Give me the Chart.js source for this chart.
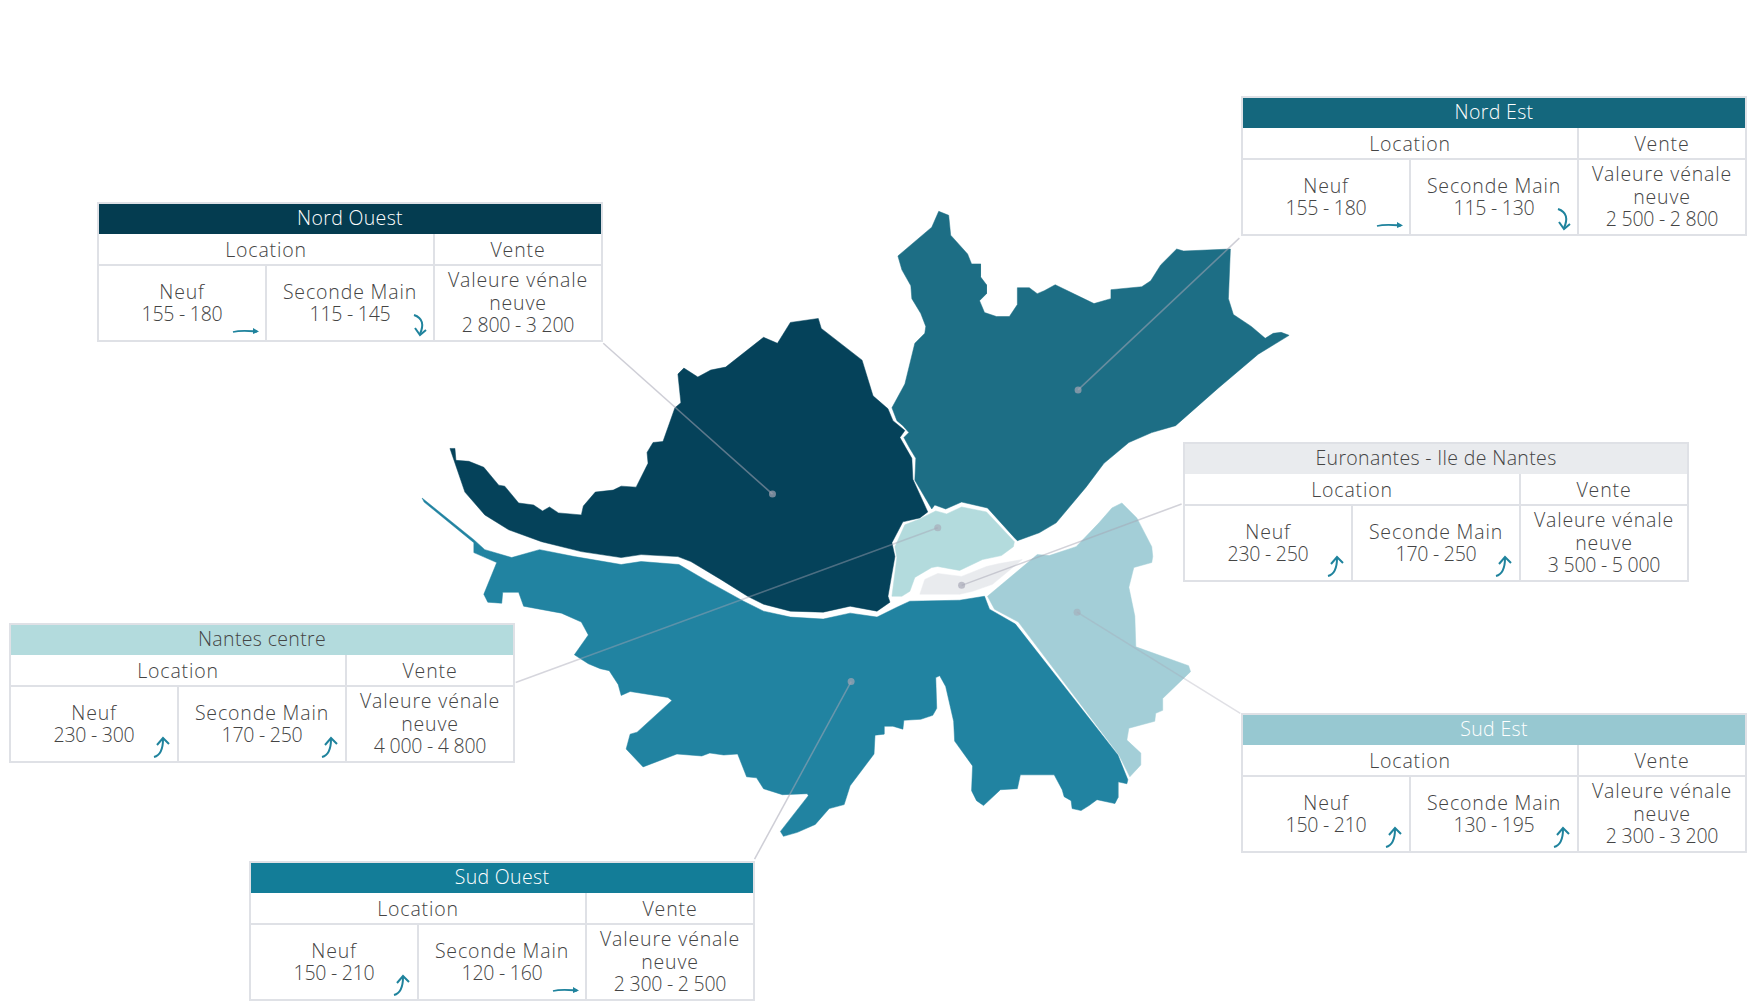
<!DOCTYPE html>
<html lang="fr">
<head>
<meta charset="utf-8">
<title>Nantes - prix par secteur</title>
<script src="https://cdn.jsdelivr.net/npm/chart.js@4/dist/chart.umd.min.js"></script>
<style>
  html, body { margin: 0; padding: 0; background: #fff; }
  #stage { position: relative; width: 1756px; height: 1008px; overflow: hidden; }
  #map { position: absolute; left: 0; top: 0; }
  .box {
    position: absolute; width: 506px; height: 140px; box-sizing: border-box;
    display: grid; grid-template-columns: 168px 168px 1fr; grid-template-rows: 30px 32px 1fr;
    border: 2px solid #dfe1e6; background: #fff;
    font-family: "Open Sans", sans-serif; font-weight: 300; font-size: 19.5px; line-height: 22.5px;
    letter-spacing: 0.85px; color: #444; text-align: center;
  }
  .box > div { position: relative; display: flex; align-items: center; justify-content: center; border-right: 2px solid #dfe1e6; border-bottom: 2px solid #dfe1e6; }
  .box > div.last { border-right: 0; }
  .box > div.bottom { border-bottom: 0; }
  .box .head { grid-column: 1 / 4; border-right: 0; border-bottom: 0; letter-spacing: 0.35px; padding-bottom: 1px; box-sizing: border-box; }
  .box .loc { grid-column: 1 / 3; }
  .box .sub { padding-top: 2px; box-sizing: border-box; }
  .box .num { letter-spacing: -0.25px; }
  .box svg { position: absolute; right: 5px; bottom: 3px; }
</style>
</head>
<body>
<div id="stage">
  <canvas id="map" width="1756" height="1008"></canvas>
</div>
<script>
// map outlines, in reference map units
const nordOuest = [[448,448],[453,448],[454,460],[467,461],[482,467],[497,485],[503,486],[517,503],[532,505],[541,511],[548,507],[557,513],[580,515],[582,506],[594,492],[612,490],[620,486],[635,487],[647,463],[646,452],[652,442],[662,441],[674,407],[680,402],[677,373],[683,367],[697,376],[710,369],[725,366],[763,336],[777,342],[790,321],[818,317],[821,327],[862,359],[873,395],[888,408],[893,420],[905,430],[900,437],[912,458],[913,479],[928,512],[920,518],[903,522],[892,543],[895,557],[888,597],[890,603],[877,612],[850,607],[823,613],[790,612],[763,605],[747,597],[720,580],[690,562],[677,557],[640,555],[620,558],[580,552],[540,542],[507,530],[483,515],[463,492]];
const nordEst = [[939,209],[949,213],[951,233],[968,252],[972,262],[981,262],[981,275],[987,283],[987,292],[980,299],[985,311],[997,315],[1010,315],[1018,303],[1018,286],[1030,286],[1038,292],[1045,289],[1056,283],[1095,302],[1112,297],[1112,288],[1143,285],[1152,279],[1162,263],[1178,247],[1185,249],[1232,247],[1230,297],[1235,313],[1253,325],[1267,337],[1275,332],[1283,331],[1291,334],[1260,353],[1220,387],[1177,425],[1153,432],[1130,442],[1105,463],[1087,487],[1057,523],[1040,533],[1018,541],[1015,538],[988,508],[962,502],[946,509],[935,505],[932,509],[915,480],[916,458],[910,448],[904,437],[909,432],[903,425],[897,420],[892,407],[905,383],[915,342],[925,332],[926,325],[921,312],[912,297],[911,284],[902,268],[898,254],[932,225]];
const nantesCentre = [[892,597],[902,597],[910,592],[915,578],[932,568],[938,567],[960,571],[983,560],[1002,556],[1014,547],[1015,542],[987,512],[962,507],[947,514],[936,511],[920,519],[905,525],[895,547],[897,558]];
const euronantes = [[920,595],[925,580],[938,574],[962,577],[987,567],[1000,564],[1023,560],[993,585],[973,592],[960,595]];
const sudOuest = [[420,498],[472,540],[483,550],[510,558],[538,550],[573,557],[620,565],[640,562],[678,565],[707,582],[743,602],[763,612],[790,618],[823,620],[850,614],[877,618],[897,608],[910,602],[960,601],[985,597],[990,610],[1016,625],[1119,757],[1129,782],[1128,786],[1119,784],[1119,800],[1116,806],[1098,802],[1090,808],[1082,813],[1073,811],[1072,803],[1065,799],[1063,792],[1055,777],[1021,777],[1018,791],[1001,792],[984,808],[977,803],[972,793],[973,768],[955,743],[954,723],[946,688],[940,677],[936,679],[937,710],[933,717],[921,721],[904,722],[903,731],[893,728],[884,728],[884,736],[875,737],[874,756],[850,788],[844,807],[829,811],[815,827],[797,835],[783,839],[780,834],[808,798],[807,796],[782,797],[763,791],[756,780],[746,779],[737,756],[723,757],[709,755],[701,758],[676,756],[642,769],[625,751],[629,736],[636,734],[671,702],[667,699],[629,693],[620,697],[617,686],[608,672],[599,670],[587,665],[573,656],[587,636],[580,623],[560,614],[522,607],[517,593],[501,593],[500,604],[486,603],[482,595],[495,563],[472,553],[472,543],[422,502]];
const sudEst = [[988,597],[995,610],[1019,623],[1120,757],[1131,779],[1142,767],[1142,755],[1128,742],[1130,730],[1156,723],[1157,715],[1164,712],[1164,700],[1192,673],[1190,667],[1137,648],[1136,617],[1130,588],[1135,568],[1153,563],[1154,557],[1153,547],[1138,518],[1123,503],[1113,508],[1100,523],[1077,547],[1050,556],[1038,555]];

// leader lines: table corner, then the dot inside the sector
const leaderNordOuest = [[602,342],[772,494]];
const leaderNordEst = [[1241,236],[1079,389]];
const leaderEuronantes = [[1183,504],[962,586]];
const leaderCentre = [[514,684],[938,528]];
const leaderSudEst = [[1242,715],[1078,613]];
const leaderSudOuest = [[754,862],[851,683]];

// table contents
const sectors = ["Nord Ouest", "Nord Est", "Euronantes - Ile de Nantes", "Nantes centre", "Sud Est", "Sud Ouest"];
const neuf = ["155 - 180", "155 - 180", "230 - 250", "230 - 300", "150 - 210", "150 - 210"];
const secondeMain = ["115 - 145", "115 - 130", "170 - 250", "170 - 250", "130 - 195", "120 - 160"];
const valeurVenale = ["2 800 - 3 200", "2 500 - 2 800", "3 500 - 5 000", "4 000 - 4 800", "2 300 - 3 200", "2 300 - 2 500"];
const trendNeuf = ["flat", "flat", "up", "up", "up", "up"];
const trendSeconde = ["down", "down", "up", "up", "up", "flat"];

const headColors = ["#043c50", "#14677d", "#e9ebee", "#b3dbdd", "#97c8d1", "#137d98"];
const headText = ["#fff", "#fff", "#444", "#444", "#fff", "#fff"];
const boxLeft = [97, 1241, 1183, 9, 1241, 249];
const boxTop = [202, 96, 442, 623, 713, 861];

const arrows = {
  flat: '<svg width="28" height="12" viewBox="0 0 28 12"><path d="M1 7 C9 5 17 6 25 6.5" fill="none" stroke="#1f839d" stroke-width="1.8"/><path d="M21 3 L27 6.5 L21 9 Z" fill="#1f839d"/></svg>',
  down: '<svg width="16" height="24" viewBox="0 0 16 24"><path d="M2 2 C11 5 12 12 8 21" fill="none" stroke="#1f839d" stroke-width="2"/><path d="M3 15 L8 22 L14 17" fill="none" stroke="#1f839d" stroke-width="2"/></svg>',
  up: '<svg width="20" height="22" viewBox="0 0 20 22"><path d="M2 21 C6 20 11 17 11 3" fill="none" stroke="#1f839d" stroke-width="2"/><path d="M5 9 L11 2 L17 8" fill="none" stroke="#1f839d" stroke-width="2"/></svg>'
};

function buildBox(i) {
  const el = document.createElement("div");
  el.className = "box";
  el.style.left = boxLeft[i] + "px";
  el.style.top = boxTop[i] + "px";
  el.innerHTML =
    `<div class="head" style="background:${headColors[i]};color:${headText[i]}">${sectors[i]}</div>` +
    `<div class="loc sub">Location</div><div class="last sub">Vente</div>` +
    `<div class="bottom"><span>Neuf<br><span class="num">${neuf[i]}</span></span>${arrows[trendNeuf[i]]}</div>` +
    `<div class="bottom"><span>Seconde Main<br><span class="num">${secondeMain[i]}</span></span>${arrows[trendSeconde[i]]}</div>` +
    `<div class="bottom last"><span>Valeure vénale<br>neuve<br><span class="num">${valeurVenale[i]}</span></span></div>`;
  document.getElementById("stage").appendChild(el);
}
sectors.forEach((_, i) => buildBox(i));

const toPoints = (list) => list.map(([x, y]) => ({ x, y }));

function region(label, shape, color) {
  return {
    label,
    data: toPoints(shape.concat([shape[0]])),
    showLine: true,
    fill: "shape",
    backgroundColor: color,
    borderColor: color,
    borderWidth: 0.5,
    pointRadius: 0,
    order: 2,
  };
}

function leader(label, line, alpha = 0.55) {
  return {
    label,
    data: toPoints(line),
    showLine: true,
    fill: false,
    borderColor: `rgba(165,165,180,${alpha})`,
    borderWidth: 1.5,
    pointRadius: [0, 3.5],
    pointBackgroundColor: `rgba(165,165,180,${alpha + 0.15})`,
    pointBorderWidth: 0,
    order: 1,
  };
}

new Chart(document.getElementById("map").getContext("2d"), {
  type: "scatter",
  data: {
    datasets: [
      region("Nord Ouest", nordOuest, "#05425a"),
      region("Nord Est", nordEst, "#1d6e85"),
      region("Nantes centre", nantesCentre, "#b3dbdd"),
      region("Euronantes", euronantes, "#e9ebee"),
      region("Sud Ouest", sudOuest, "#2183a1"),
      region("Sud Est", sudEst, "#a3ced7"),
      leader("Nord Ouest", leaderNordOuest),
      leader("Nord Est", leaderNordEst),
      leader("Euronantes", leaderEuronantes, 0.5),
      leader("Nantes centre", leaderCentre, 0.45),
      leader("Sud Est", leaderSudEst, 0.35),
      leader("Sud Ouest", leaderSudOuest),
    ],
  },
  options: {
    responsive: false,
    animation: false,
    layout: { padding: 0 },
    plugins: { legend: { display: false }, tooltip: { enabled: false } },
    scales: {
      x: { type: "linear", min: 0, max: 1756, display: false },
      y: { type: "linear", min: 0, max: 1008, reverse: true, display: false },
    },
  },
});
</script>
</body>
</html>
